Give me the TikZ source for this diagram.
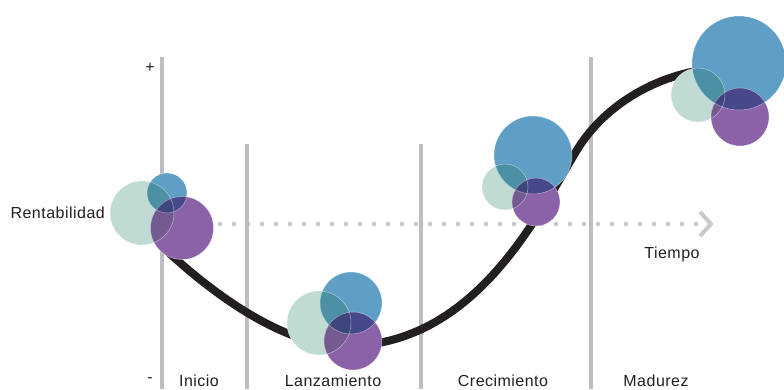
\documentclass[tikz,border=0pt]{standalone}
\usepackage{fontspec}
\setmainfont{Liberation Sans}[LetterSpace=3]
\definecolor{lgray}{HTML}{BDBEC1}
\definecolor{dotc}{HTML}{C8C8CA}
\definecolor{ink}{HTML}{231F20}
\definecolor{mint}{HTML}{BFDBD3}
\definecolor{blu}{HTML}{5F9FC5}
\definecolor{pur}{HTML}{8B62A8}
\definecolor{mb}{HTML}{4B90A4}
\definecolor{mp}{HTML}{745A90}
\definecolor{bp}{HTML}{464889}
\definecolor{mbp}{HTML}{3E467E}
\newcommand\bubbles[9]{%
  \fill[mint] (#1,#2) circle[radius=#3];
  \fill[blu] (#4,#5) circle[radius=#6];
  \fill[pur] (#7,#8) circle[radius=#9];
  \begin{scope}
    \clip (#1,#2) circle[radius=#3];
    \fill[mb] (#4,#5) circle[radius=#6];
    \fill[mp] (#7,#8) circle[radius=#9];
  \end{scope}
  \begin{scope}
    \clip (#4,#5) circle[radius=#6];
    \fill[bp] (#7,#8) circle[radius=#9];
    \clip (#1,#2) circle[radius=#3];
    \fill[mbp] (#7,#8) circle[radius=#9];
  \end{scope}
  \draw[edge] (#1,#2) circle[radius=#3];
  \draw[edge] (#4,#5) circle[radius=#6];
  \draw[edge] (#7,#8) circle[radius=#9];
}
\begin{document}
\begin{tikzpicture}[x=1pt,y=-1pt,
  vline/.style={draw=lgray, line width=4pt},
  dotmark/.style={fill=dotc},
  chev/.style={draw=dotc, line width=4pt},
  curve/.style={draw=ink, line width=8pt},
  edge/.style={draw=white, line width=0.5pt, opacity=0.5},
  lbl/.style={font=\fontsize{16}{19}\selectfont, text=ink, inner sep=0pt}]
\useasboundingbox (0,0) rectangle (784,389);
% dotted time axis
\foreach \i in {0,...,34} \fill[dotmark] (220+14*\i,224) circle[radius=2.3];
\draw[chev] (700,212) -- (711,224) -- (700,236);
% vertical lines
\draw[vline] (162,57) -- (162,389);
\draw[vline] (247,144) -- (247,389);
\draw[vline] (421,144) -- (421,389);
\draw[vline] (591,57) -- (591,389);
% curve
\coordinate (c0) at (165,249);
\coordinate (c1) at (345,346);
\coordinate (c2) at (577,150);
\coordinate (c3) at (696,71);
\draw[curve] (c0) .. controls (195,277.5) and (275,346) .. (c1)
  .. controls (475,346) and (537,216) .. (c2)
  .. controls (602,108.75) and (648,80) .. (c3);
% bubbles
\bubbles{142}{213}{32}{167}{193}{20}{182}{228}{31.5}
\bubbles{319}{323}{32}{351}{303}{31}{353}{341}{29}
\bubbles{505}{187}{23}{533}{155}{39}{536}{202}{24}
\bubbles{698}{95}{27}{739}{63}{47}{740}{117}{29}
% labels
\node[lbl, anchor=base east] (rent) at (105,218) {Rentabilidad};
\node[lbl] (plus) at (150,68) {+};
\node[lbl] (minus) at (150,380) {-};
\node[lbl, anchor=base] (tiempo) at (672,258) {Tiempo};
\node[lbl, anchor=base] (inicio) at (199,386) {Inicio};
\node[lbl, anchor=base] (lanz) at (333,386) {Lanzamiento};
\node[lbl, anchor=base] (crec) at (503,386) {Crecimiento};
\node[lbl, anchor=base] (mad) at (656,386) {Madurez};
\end{tikzpicture}
\end{document}
